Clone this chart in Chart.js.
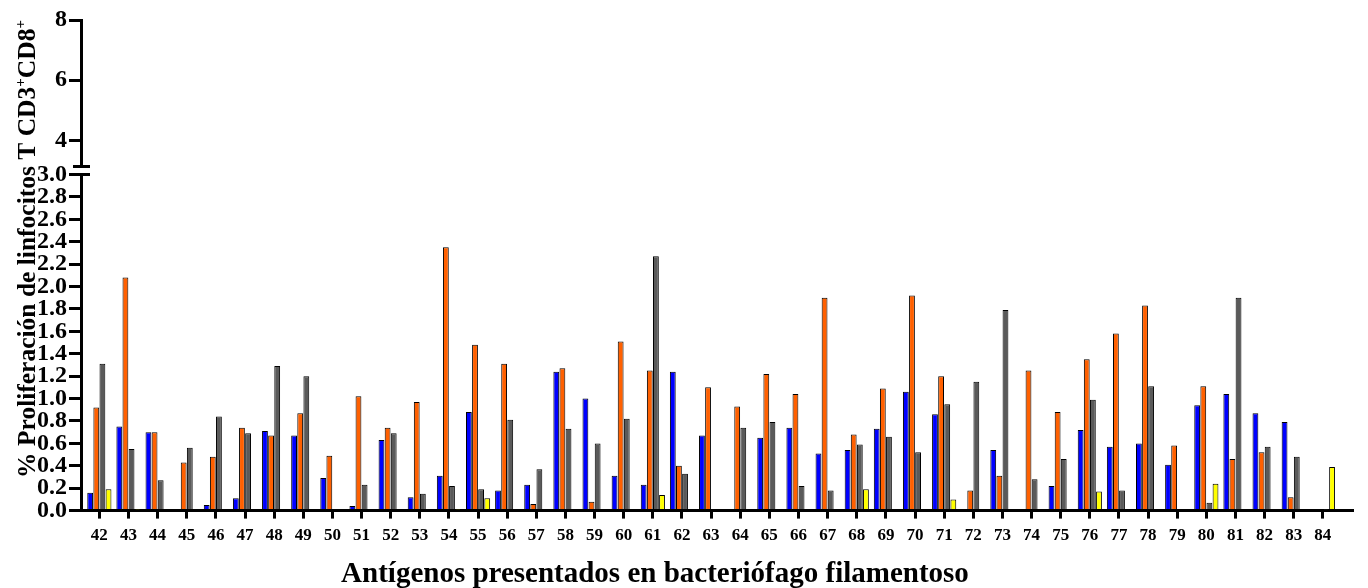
<!DOCTYPE html>
<html>
<head>
<meta charset="utf-8">
<script src="https://cdn.jsdelivr.net/npm/chart.js@4/dist/chart.umd.min.js"></script>
<style>
  body { margin: 0; background: #fff; }
</style>
</head>
<body>
<canvas id="grafico" width="1368" height="588"></canvas>
<script>
// Antígenos presentados (eje x)
const antigenos = [42, 43, 44, 45, 46, 47, 48, 49, 50, 51, 52, 53, 54, 55, 56, 57, 58, 59, 60, 61, 62,
  63, 64, 65, 66, 67, 68, 69, 70, 71, 72, 73, 74, 75, 76, 77, 78, 79, 80, 81, 82, 83, 84];

// % proliferación por serie
const serieAzul = [0.16, 0.75, 0.70, null, 0.05, 0.11, 0.71, 0.67, 0.29, 0.04, 0.63,
  0.12, 0.31, 0.88, 0.18, 0.23, 1.24, 1.00, 0.31, 0.23, 1.24, 0.67,
  null, 0.65, 0.74, 0.51, 0.54, 0.73, 1.06, 0.86, null, 0.54, null,
  0.22, 0.72, 0.57, 0.60, 0.41, 0.94, 1.04, 0.87, 0.79, null];
const serieNaranja = [0.92, 2.08, 0.70, 0.43, 0.48, 0.74, 0.67, 0.87, 0.49, 1.02, 0.74,
  0.97, 2.35, 1.48, 1.31, 0.06, 1.27, 0.08, 1.51, 1.25, 0.40, 1.10,
  0.93, 1.22, 1.04, 1.90, 0.68, 1.09, 1.92, 1.20, 0.18, 0.31, 1.25,
  0.88, 1.35, 1.58, 1.83, 0.58, 1.11, 0.46, 0.52, 0.12, null];
const serieGris = [1.31, 0.55, 0.27, 0.56, 0.84, 0.69, 1.29, 1.20, null, 0.23, 0.69,
  0.15, 0.22, 0.19, 0.81, 0.37, 0.73, 0.60, 0.82, 2.27, 0.33, null,
  0.74, 0.79, 0.22, 0.18, 0.59, 0.66, 0.52, 0.95, 1.15, 1.79, 0.28,
  0.46, 0.99, 0.18, 1.11, null, 0.07, 1.90, 0.57, 0.48, 0.01];
const serieAmarilla = [0.19, 0.01, null, null, null, null, null, null, null, null, null,
  null, 0.01, 0.11, null, null, null, null, null, 0.14, null, null,
  null, null, null, null, 0.19, null, null, 0.10, null, null, null,
  null, 0.17, null, null, null, 0.24, null, null, null, 0.39];

// marcas de los ejes
const ticksInferior = [0, 0.2, 0.4, 0.6, 0.8, 1.0, 1.2, 1.4, 1.6, 1.8, 2.0, 2.2, 2.4, 2.6, 2.8, 3.0];
const ticksSuperior = [4, 6, 8];

const fuente = '"Liberation Serif", "Times New Roman", serif';

// titulos y simbolo de corte del eje
const extras = {
  id: 'extras',
  afterDraw(chart) {
    const ctx = chart.ctx;
    const { y, y2 } = chart.scales;
    const area = chart.chartArea;
    ctx.save();
    ctx.strokeStyle = '#000';
    ctx.lineWidth = 3;
    [y2.bottom, y.top].forEach(py => {
      ctx.beginPath();
      ctx.moveTo(area.left - 8, py);
      ctx.lineTo(area.left + 9, py);
      ctx.stroke();
    });

    // titulo eje y con superindices
    const partes = [
      ['% Proliferación de linfocitos T CD3', false],
      ['+', true],
      ['CD8', false],
      ['+', true]
    ];
    const fNormal = 'bold 25.5px ' + fuente;
    const fSup = 'bold 15px ' + fuente;
    let total = 0;
    partes.forEach(p => {
      ctx.font = p[1] ? fSup : fNormal;
      total += ctx.measureText(p[0]).width;
    });
    ctx.fillStyle = '#000';
    ctx.translate(35, 249);
    ctx.rotate(-Math.PI / 2);
    ctx.textBaseline = 'alphabetic';
    ctx.textAlign = 'left';
    let px = -total / 2;
    partes.forEach(p => {
      ctx.font = p[1] ? fSup : fNormal;
      ctx.fillText(p[0], px, p[1] ? -10 : 0);
      px += ctx.measureText(p[0]).width;
    });
    ctx.setTransform(1, 0, 0, 1, 0, 0);

    // titulo eje x
    ctx.font = 'bold 29px ' + fuente;
    ctx.textAlign = 'center';
    ctx.fillText('Antígenos presentados en bacteriófago filamentoso',
      area.left + 0.4516 * (area.right - area.left), 582);
    ctx.restore();
  }
};

const conjunto = (datos, color) => ({
  data: datos,
  backgroundColor: color,
  borderColor: '#000',
  borderWidth: 1,
  borderSkipped: 'start',
  yAxisID: 'y'
});

new Chart(document.getElementById('grafico'), {
  type: 'bar',
  data: {
    labels: antigenos,
    datasets: [
      conjunto(serieAzul, '#0000ff'),
      conjunto(serieNaranja, '#ff6000'),
      conjunto(serieGris, '#5a5a5a'),
      conjunto(serieAmarilla, '#ffff00')
    ]
  },
  options: {
    responsive: false,
    animation: false,
    devicePixelRatio: 1,
    categoryPercentage: 0.84,
    barPercentage: 0.95,
    layout: { padding: { left: 35, right: 16, top: 20, bottom: 35 } },
    plugins: { legend: { display: false }, tooltip: { enabled: false } },
    scales: {
      x: {
        type: 'linear',
        offset: false,
        min: 41.37,
        max: 85.0,
        afterBuildTicks: ax => { ax.ticks = antigenos.map(v => ({ value: v })); },
        ticks: {
          autoSkip: false, maxRotation: 0, padding: 7, color: '#000',
          font: { family: fuente, size: 17, weight: 'bold' },
          callback: v => String(v)
        },
        grid: { offset: false, drawOnChartArea: false, tickLength: 8, color: '#000', lineWidth: 3 },
        border: { color: '#000', width: 3 }
      },
      y: {
        stack: 'v', stackWeight: 335, min: 0, max: 3,
        afterBuildTicks: ax => { ax.ticks = ticksInferior.map(v => ({ value: v })); },
        ticks: {
          autoSkip: false, padding: 2, color: '#000',
          font: { family: fuente, size: 24, weight: 'bold' },
          callback: v => v.toFixed(1)
        },
        grid: { drawOnChartArea: false, tickLength: 12, color: '#000', lineWidth: 3 },
        border: { color: '#000', width: 3 }
      },
      yCorte: {
        stack: 'v', stackWeight: 8, display: false, min: 0, max: 1
      },
      y2: {
        stack: 'v', stackWeight: 146, min: 3.13, max: 8,
        afterBuildTicks: ax => { ax.ticks = ticksSuperior.map(v => ({ value: v })); },
        ticks: {
          autoSkip: false, padding: 2, color: '#000',
          font: { family: fuente, size: 24, weight: 'bold' },
          callback: v => String(v)
        },
        grid: { drawOnChartArea: false, tickLength: 12, color: '#000', lineWidth: 3 },
        border: { color: '#000', width: 3 }
      }
    }
  },
  plugins: [extras]
});
</script>
</body>
</html>
